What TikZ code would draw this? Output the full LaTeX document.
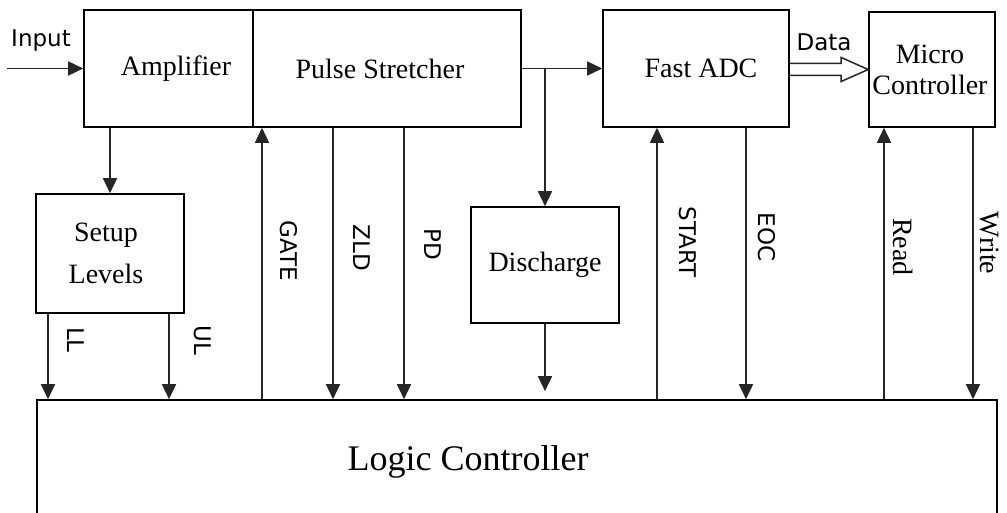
\documentclass[tikz,border=0pt]{standalone}
\usepackage{fontspec}
\setmainfont{Liberation Serif}
\newfontfamily\sigfont{DejaVu Sans}
\usetikzlibrary{arrows.meta,calc}
\begin{document}
\begin{tikzpicture}[x=1pt,y=-1pt,
  box/.style={draw=black, line width=1.6pt, inner sep=0pt, align=center},
  txt/.style={font=\fontsize{28}{31}\selectfont, align=center, inner sep=0pt},
  arr/.style={draw=black!85, line width=1.6pt, -{Triangle[length=15pt,width=14pt]}},
  dat/.style={draw=black!85, line width=1.5pt, line join=miter},
  sig/.style={font=\sigfont\fontsize{23}{26}\selectfont, inner sep=0pt},
  vsig/.style={sig, rotate=-90},
  vser/.style={font=\fontsize{28}{30}\selectfont, inner sep=0pt, rotate=-90}]
\useasboundingbox (0,0) rectangle (1007,513);
\clip (0,0) rectangle (1007,513);
\fill[white] (0,0) rectangle (1007,513);

% boxes
\node[box, minimum width=169pt, minimum height=117pt,
  label={[txt,xshift=7.5pt]center:Amplifier}] (amp) at (168.5,68.5) {};
\node[box, minimum width=268pt, minimum height=117pt,
  label={[txt,xshift=-7pt]center:Pulse Stretcher}] (ps) at (387,68.5) {};
\node[box, minimum width=186pt, minimum height=117pt,
  label={[txt,xshift=5pt]center:Fast ADC}] (adc) at (696,68.5) {};
\node[box, minimum width=126pt, minimum height=115pt,
  label={[txt,font=\fontsize{28}{31}\selectfont,xshift=-2pt]center:Micro\\Controller}] (mc) at (932,69.5) {};
\node[box, minimum width=148pt, minimum height=119pt,
  label={[txt,font=\fontsize{28}{42}\selectfont,xshift=-4pt]center:Setup\\Levels}] (setup) at (110,253.5) {};
\node[box, minimum width=148pt, minimum height=116pt,
  label={[txt]center:Discharge}] (dis) at (545,265) {};
\node[box, minimum width=960pt, minimum height=160pt,
  label={[font=\fontsize{36}{40}\selectfont,inner sep=0pt,xshift=-49pt,yshift=18pt]center:Logic Controller}] (lc) at (517,480) {};

% input
\coordinate (inp) at (7,68.5);
\draw[arr] (inp) -- (amp.west);
\node[sig] (inlab) at (41,41) {Input};

% amplifier to setup levels
\draw[arr] (setup.north |- amp.south) -- (setup.north);

% signal x positions
\coordinate (xll) at (48,0);
\coordinate (xul) at (169,0);
\coordinate (xg) at (262,0);
\coordinate (xz) at (333,0);
\coordinate (xp) at (404,0);
\coordinate (xs) at (657,0);
\coordinate (xe) at (746,0);
\coordinate (xr) at (884,0);
\coordinate (xw) at (973,0);

\draw[arr] (xll |- setup.south) -- (xll |- lc.north);
\draw[arr] (xul |- setup.south) -- (xul |- lc.north);
\draw[arr] (xg |- lc.north) -- (xg |- ps.south);
\draw[arr] (xz |- ps.south) -- (xz |- lc.north);
\draw[arr] (xp |- ps.south) -- (xp |- lc.north);
\draw[arr] (xs |- lc.north) -- (xs |- adc.south);
\draw[arr] (xe |- adc.south) -- (xe |- lc.north);
\draw[arr] (xr |- lc.north) -- (xr |- mc.south);
\draw[arr] (xw |- mc.south) -- (xw |- lc.north);

% pulse stretcher to ADC and discharge
\draw[arr] (ps.east) -- (adc.west);
\draw[arr] (dis.north |- ps.east) -- (dis.north);
\draw[arr] (dis.south) -- ($(dis.south |- lc.north)+(0,-8)$);

% data double arrow
\draw[dat] ($(adc.east)+(0,-5)$) -- ($(mc.west)+(-27,-6)$) -- ($(mc.west)+(-27,-12)$)
  -- (mc.west) -- ($(mc.west)+(-27,12)$) -- ($(mc.west)+(-27,6)$) -- ($(adc.east)+(0,7)$);
\node[sig] (datalab) at (824,42) {Data};

% signal labels
\node[vsig] (ll) at (76,340) {LL};
\node[vsig] (ul) at (203,340) {UL};
\node[vsig] (gate) at (289,251) {GATE};
\node[vsig] (zld) at (362,248) {ZLD};
\node[vsig] (pd) at (433,244) {PD};
\node[vsig] (start) at (688,242) {START};
\node[vsig] (eoc) at (767,237) {EOC};
\node[vser] (read) at (903,247) {Read};
\node[vser] (write) at (990,243) {Write};
\end{tikzpicture}
\end{document}
